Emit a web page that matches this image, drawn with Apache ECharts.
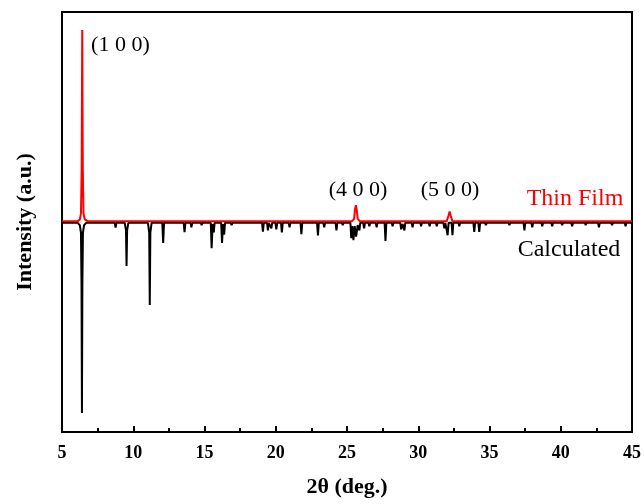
<!DOCTYPE html>
<html>
<head>
<meta charset="utf-8">
<script src="https://cdn.jsdelivr.net/npm/echarts@6/dist/echarts.min.js"></script>
<style>html,body{margin:0;padding:0;background:#fff}#c{width:644px;height:504px}</style>
</head>
<body>
<div id="c"></div>
<script>
// Tick labels of the 2θ axis
var xTicks = [5, 10, 15, 20, 25, 30, 35, 40, 45];

// Thin film pattern (2θ, intensity), red
var thinFilm = [
  [5, 0.004], [6.1, 0.004], [6.25, 0.012], [6.33, 0.04], [6.38, 0.25], [6.42, 0.914], [6.46, 0.25], [6.51, 0.04], [6.6, 0.012], [6.8, 0.004],
  [12.7, 0.004], [12.78, 0.012], [12.86, 0.004],
  [19.0, 0.004], [19.1, 0.01], [19.2, 0.004],
  [25.35, 0.004], [25.5, 0.015], [25.56, 0.06], [25.62, 0.08], [25.68, 0.06], [25.75, 0.015], [25.9, 0.004],
  [32.0, 0.004], [32.12, 0.03], [32.2, 0.05], [32.28, 0.03], [32.4, 0.004],
  [38.8, 0.004], [38.9, 0.01], [39.0, 0.004],
  [45, 0.004]
];

// Calculated pattern (2θ, intensity), black, drawn downward
var calculated = [
  [5, -0.004], [6.1, -0.004], [6.25, -0.015], [6.33, -0.05], [6.37, -0.3], [6.4, -0.91], [6.43, -0.3], [6.47, -0.05], [6.55, -0.015], [6.7, -0.004],
  [8.7, -0.004], [8.76, -0.027], [8.82, -0.004],
  [9.4, -0.004], [9.49, -0.04], [9.53, -0.21], [9.57, -0.04], [9.66, -0.004],
  [11.03, -0.004], [11.12, -0.05], [11.16, -0.395], [11.2, -0.05], [11.29, -0.004],
  [12.04, -0.004], [12.1, -0.10], [12.16, -0.004],
  [13.54, -0.004], [13.6, -0.048], [13.66, -0.004],
  [14.02, -0.004], [14.08, -0.025], [14.14, -0.004],
  [14.74, -0.004], [14.8, -0.015], [14.86, -0.004],
  [15.44, -0.004], [15.5, -0.125], [15.57, -0.01], [15.65, -0.05], [15.71, -0.004],
  [16.17, -0.004], [16.23, -0.10], [16.3, -0.01], [16.38, -0.06], [16.44, -0.004],
  [16.84, -0.004], [16.9, -0.015], [16.96, -0.004],
  [19.04, -0.004], [19.1, -0.046], [19.16, -0.004],
  [19.39, -0.004], [19.45, -0.04], [19.51, -0.004],
  [19.63, -0.004], [19.69, -0.03], [19.75, -0.004],
  [19.98, -0.004], [20.04, -0.035], [20.1, -0.004],
  [20.37, -0.004], [20.43, -0.05], [20.49, -0.004],
  [20.91, -0.004], [20.97, -0.025], [21.03, -0.004],
  [21.74, -0.004], [21.8, -0.058], [21.86, -0.004],
  [22.9, -0.004], [22.96, -0.064], [23.02, -0.004],
  [23.34, -0.004], [23.4, -0.025], [23.46, -0.004],
  [24.2, -0.004], [24.26, -0.04], [24.32, -0.004],
  [24.64, -0.004], [24.7, -0.015], [24.76, -0.004],
  [25.24, -0.004], [25.3, -0.077], [25.37, -0.02], [25.45, -0.087], [25.54, -0.02], [25.64, -0.07], [25.75, -0.015], [25.87, -0.04], [25.93, -0.004],
  [26.14, -0.004], [26.2, -0.03], [26.26, -0.004],
  [26.51, -0.004], [26.57, -0.02], [26.63, -0.004],
  [27.02, -0.004], [27.08, -0.025], [27.14, -0.004],
  [27.64, -0.004], [27.7, -0.09], [27.76, -0.004],
  [28.14, -0.004], [28.2, -0.02], [28.26, -0.004],
  [28.74, -0.004], [28.8, -0.035], [28.9, -0.01], [29.03, -0.04], [29.09, -0.004],
  [29.54, -0.004], [29.6, -0.025], [29.66, -0.004],
  [30.14, -0.004], [30.2, -0.02], [30.26, -0.004],
  [30.74, -0.004], [30.8, -0.02], [30.86, -0.004],
  [31.24, -0.004], [31.3, -0.02], [31.36, -0.004],
  [31.77, -0.004], [31.83, -0.03], [31.9, -0.004],
  [32.0, -0.004], [32.06, -0.063], [32.13, -0.004],
  [32.34, -0.004], [32.4, -0.063], [32.46, -0.004],
  [32.82, -0.004], [32.88, -0.02], [32.94, -0.004],
  [33.87, -0.004], [33.93, -0.047], [33.99, -0.004],
  [34.22, -0.004], [34.28, -0.047], [34.34, -0.004],
  [34.69, -0.004], [34.75, -0.015], [34.81, -0.004],
  [35.39, -0.004], [35.45, -0.012], [35.51, -0.004],
  [36.34, -0.004], [36.4, -0.015], [36.46, -0.004],
  [37.39, -0.004], [37.45, -0.04], [37.51, -0.004],
  [37.94, -0.004], [38.0, -0.025], [38.06, -0.004],
  [38.64, -0.004], [38.7, -0.02], [38.76, -0.004],
  [39.34, -0.004], [39.4, -0.02], [39.46, -0.004],
  [40.04, -0.004], [40.1, -0.015], [40.16, -0.004],
  [40.74, -0.004], [40.8, -0.02], [40.86, -0.004],
  [41.69, -0.004], [41.75, -0.015], [41.81, -0.004],
  [42.62, -0.004], [42.68, -0.025], [42.74, -0.004],
  [43.54, -0.004], [43.6, -0.015], [43.66, -0.004],
  [44.49, -0.004], [44.55, -0.02], [44.61, -0.004],
  [45, -0.004]
];

// Peak labels: text, 2θ position, intensity position
var peakLabels = [
  ['(1 0 0)', 9.1, 0.843],
  ['(4 0 0)', 25.77, 0.149],
  ['(5 0 0)', 32.23, 0.149]
];
var seriesNames = ['Thin Film', 'Calculated'];
var seriesNamePos = [[41.0, 0.109], [40.58, -0.133]];

var serif = '"Liberation Serif", "Times New Roman", serif';
var chart = echarts.init(document.getElementById('c'), null, {renderer: 'canvas'});

var marks = peakLabels.map(function (p) {
  return {coord: [p[1], p[2]], label: {formatter: p[0], color: '#000', fontSize: 22}};
});
marks.push({coord: seriesNamePos[0], label: {formatter: seriesNames[0], color: '#ff0000', fontSize: 24}});
marks.push({coord: seriesNamePos[1], label: {formatter: seriesNames[1], color: '#000', fontSize: 24}});

chart.setOption({
  animation: false,
  backgroundColor: '#fff',
  grid: {left: 62, right: 12, top: 12, bottom: 72, show: true, borderColor: '#000', borderWidth: 2, backgroundColor: 'transparent'},
  xAxis: {
    type: 'value', min: xTicks[0], max: xTicks[xTicks.length - 1], interval: 5,
    name: '2θ (deg.)', nameLocation: 'middle', nameGap: 44,
    nameTextStyle: {fontFamily: serif, fontWeight: 'bold', fontSize: 22, color: '#000'},
    axisLine: {show: true, onZero: false, lineStyle: {color: '#000', width: 2}},
    axisTick: {show: true, inside: true, length: 6, lineStyle: {color: '#000', width: 2}},
    minorTick: {show: true, splitNumber: 2, length: 4, lineStyle: {color: '#000', width: 2}},
    axisLabel: {fontFamily: serif, fontWeight: 'bold', fontSize: 18, color: '#000', margin: 12},
    splitLine: {show: false}
  },
  yAxis: {
    type: 'value', min: -1, max: 1,
    name: 'Intensity (a.u.)', nameLocation: 'middle', nameGap: 26,
    nameTextStyle: {fontFamily: serif, fontWeight: 'bold', fontSize: 22, color: '#000'},
    axisLine: {show: true, onZero: false, lineStyle: {color: '#000', width: 2}},
    axisTick: {show: false}, axisLabel: {show: false}, splitLine: {show: false}
  },
  series: [
    {
      name: seriesNames[1], type: 'line', data: calculated, showSymbol: false, symbol: 'none',
      lineStyle: {color: '#000', width: 2}, z: 2
    },
    {
      name: seriesNames[0], type: 'line', data: thinFilm, showSymbol: false, symbol: 'none',
      lineStyle: {color: '#ff0000', width: 2}, z: 3,
      markPoint: {
        symbol: 'circle', symbolSize: 1, itemStyle: {color: 'rgba(0,0,0,0)'},
        label: {show: true, position: 'inside', fontFamily: serif},
        data: marks
      }
    }
  ]
});
</script>
</body>
</html>
